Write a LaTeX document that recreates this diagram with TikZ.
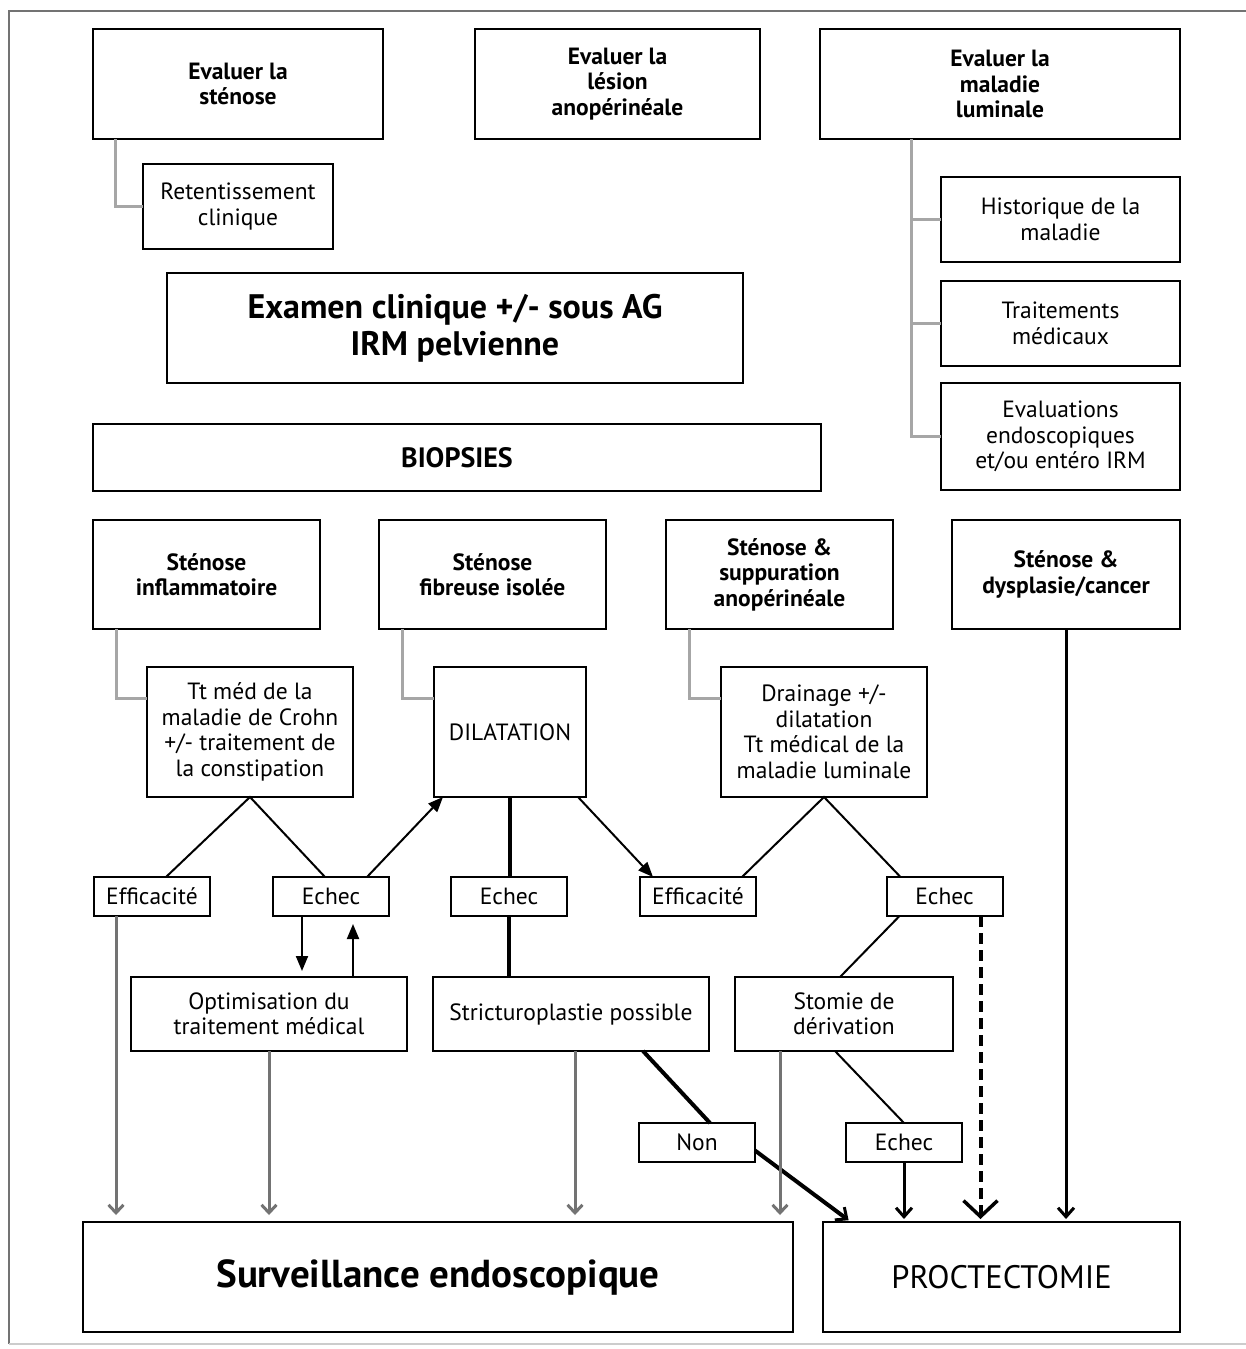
\documentclass[tikz,border=0pt]{standalone}
\usepackage{fontspec}
\setmainfont{PT Sans}
\usetikzlibrary{arrows.meta}
\begin{document}
\begin{tikzpicture}[x=1pt,y=-1pt,
  box/.style={draw=black, line width=2pt, fill=white, align=center, inner sep=2pt, outer sep=0pt,
    font=\fontsize{23.5}{25.5}\selectfont},
  boldbox/.style={box, font=\fontsize{23.5}{25.5}\selectfont\bfseries},
  tag/.style={box, minimum width=116pt, minimum height=39pt},
  tree/.style={draw=black!35, line width=3pt},
  link/.style={draw=black, line width=2pt},
  heavy/.style={draw=black, line width=4pt},
  tri/.style={link, -{Triangle[length=15pt,width=12pt]}},
  barb/.style={-{Straight Barb[length=9pt,width=16pt,line width=3pt]}, shorten >=3pt},
  tosurv/.style={draw=black!55, line width=3pt, -{Straight Barb[length=8pt,width=15pt,line width=3pt]}, shorten >=7pt},
]
\useasboundingbox (0,0) rectangle (1246,1349);
\fill[white] (0,0) rectangle (1246,1349);
% outer frame, open on the right
\draw[black!55, line width=2.5pt] (1246,11) -- (9,11) -- (9,1344);
\draw[black!20, line width=2pt] (9,1344) -- (1246,1344);

% evaluation boxes
\node[boldbox, minimum width=290pt, minimum height=110pt] (evalSten) at (238,84) {Evaluer la\\sténose};
\node[boldbox, minimum width=285pt, minimum height=110pt] (evalLes) at (617.5,84) {Evaluer la\\lésion\\anopérinéale};
\node[boldbox, minimum width=360pt, minimum height=110pt] (evalLum) at (1000,84) {Evaluer la\\maladie\\luminale};
\node[box, minimum width=190pt, minimum height=85pt] (retent) at (238,206.5) {Retentissement\\clinique};
\node[box, minimum width=239pt, minimum height=85pt] (hist) at (1060.5,219.5) {Historique de la\\maladie};
\node[box, minimum width=239pt, minimum height=85pt] (trait) at (1060.5,323.5) {Traitements\\médicaux};
\node[box, minimum width=239pt, minimum height=107pt] (evalEndo) at (1060.5,436.5) {Evaluations\\endoscopiques\\et/ou entéro IRM};

\node[box, minimum width=576pt, minimum height=110pt, font=\fontsize{34}{37}\selectfont\bfseries] (examen) at (455,328) {Examen clinique +/- sous AG\\IRM pelvienne};
\node[box, minimum width=728pt, minimum height=67pt, font=\fontsize{28}{30}\selectfont\bfseries] (biop) at (457,457.5) {BIOPSIES};

% stenosis types
\node[boldbox, minimum width=227pt, minimum height=109pt] (stInf) at (206.5,574.5) {Sténose\\inflammatoire};
\node[boldbox, minimum width=227pt, minimum height=109pt] (stFib) at (492.5,574.5) {Sténose\\fibreuse isolée};
\node[boldbox, minimum width=227pt, minimum height=109pt] (stSupp) at (779.5,574.5) {Sténose \&\\suppuration\\anopérinéale};
\node[boldbox, minimum width=228pt, minimum height=109pt] (stDys) at (1066,574.5) {Sténose \&\\dysplasie/cancer};

% treatments
\node[box, minimum width=206pt, minimum height=130pt] (ttmed) at (250,732) {Tt méd de la\\maladie de Crohn\\+/- traitement de\\la constipation};
\node[box, minimum width=152pt, minimum height=130pt] (dilat) at (510,732) {DILATATION};
\node[box, minimum width=206pt, minimum height=130pt] (drain) at (824,732) {Drainage +/-\\dilatation\\Tt médical de la\\maladie luminale};

% outcomes
\node[tag] (eff1) at (152,896.5) {Efficacité};
\node[tag] (echec1) at (331,896.5) {Echec};
\node[tag] (echec2) at (509,896.5) {Echec};
\node[tag] (eff2) at (698,896.5) {Efficacité};
\node[tag] (echec3) at (944.5,896.5) {Echec};

\node[box, minimum width=276pt, minimum height=74pt] (opt) at (269,1014) {Optimisation du\\traitement médical};
\node[box, minimum width=276pt, minimum height=74pt] (strict) at (571,1014) {Stricturoplastie possible};
\node[box, minimum width=218pt, minimum height=74pt] (stomie) at (844,1014) {Stomie de\\dérivation};

\node[tag] (non) at (697,1142.5) {Non};
\node[tag] (echec4) at (904,1142.5) {Echec};

\node[box, minimum width=710pt, minimum height=110pt, font=\fontsize{39}{42}\selectfont\bfseries] (surv) at (438,1277) {Surveillance endoscopique};
\node[box, minimum width=357pt, minimum height=110pt, font=\fontsize{32.5}{36}\selectfont] (proct) at (1001.5,1277) {PROCTECTOMIE};

% grey sub-item trees
\draw[tree] ([xshift=22pt]evalSten.south west) |- (retent.west);
\coordinate (trunk) at ([xshift=91pt]evalLum.south west);
\draw[tree] (trunk) |- (evalEndo.west);
\draw[tree] (trunk |- hist.west) -- (hist.west);
\draw[tree] (trunk |- trait.west) -- (trait.west);
\draw[tree] ([xshift=23pt]stInf.south west) |- ([yshift=34pt]ttmed.west);
\draw[tree] ([xshift=23pt]stFib.south west) |- ([yshift=34pt]dilat.west);
\draw[tree] ([xshift=23pt]stSupp.south west) |- ([yshift=34pt]drain.west);

% inflammatory branch
\draw[link] ([xshift=14pt]eff1.north) -- (ttmed.south) -- ([xshift=-6pt]echec1.north);
\draw[tri] ([xshift=36pt]echec1.north) -- ([xshift=9pt]dilat.south west);
\draw[tri, shorten >=6pt] ([xshift=-29pt]echec1.south) -- ([xshift=-29pt]echec1.south |- opt.north);
\draw[tri, shorten >=8pt] ([xshift=84pt]opt.north) -- ([xshift=84pt]opt.north |- echec1.south);

% fibrous branch
\draw[heavy] (dilat.south) -- (dilat.south |- echec2.north);
\draw[heavy] (echec2.south) -- (echec2.south |- strict.north);
\draw[tri] ([xshift=-8pt]dilat.south east) -- ([xshift=13pt]eff2.north west);
\draw[heavy] ([xshift=72pt]strict.south) -- ([xshift=13pt]non.north);
\draw[heavy, barb] ([yshift=-8pt]non.east) -- ([xshift=28pt]proct.north west);

% suppuration branch
\draw[link] ([xshift=44pt]eff2.north) -- (drain.south) -- ([xshift=-44pt]echec3.north);
\draw[link] ([xshift=-45pt]echec3.south) -- ([xshift=-4pt]stomie.north);
\draw[link] ([xshift=-9pt]stomie.south) -- (echec4.north);
\draw[link, line width=3pt, barb] (echec4.south) -- (echec4.south |- proct.north);
\draw[draw=black, line width=4pt, dash pattern=on 11pt off 6pt,
  -{Straight Barb[length=16pt,width=34pt,line width=3.5pt]}, shorten >=3pt]
  ([xshift=36pt]echec3.south) -- ([xshift=36pt]echec3.south |- proct.north);

% cancer branch
\draw[link, line width=3pt, barb] (stDys.south) -- (stDys.south |- proct.north);

% endoscopic follow-up
\draw[tosurv] ([xshift=-36pt]eff1.south) -- ([xshift=-36pt]eff1.south |- surv.north);
\draw[tosurv] (opt.south) -- (opt.south |- surv.north);
\draw[tosurv] ([xshift=4pt]strict.south) -- ([xshift=4pt]strict.south |- surv.north);
\draw[tosurv] ([xshift=-64pt]stomie.south) -- ([xshift=-64pt]stomie.south |- surv.north);
\end{tikzpicture}
\end{document}
